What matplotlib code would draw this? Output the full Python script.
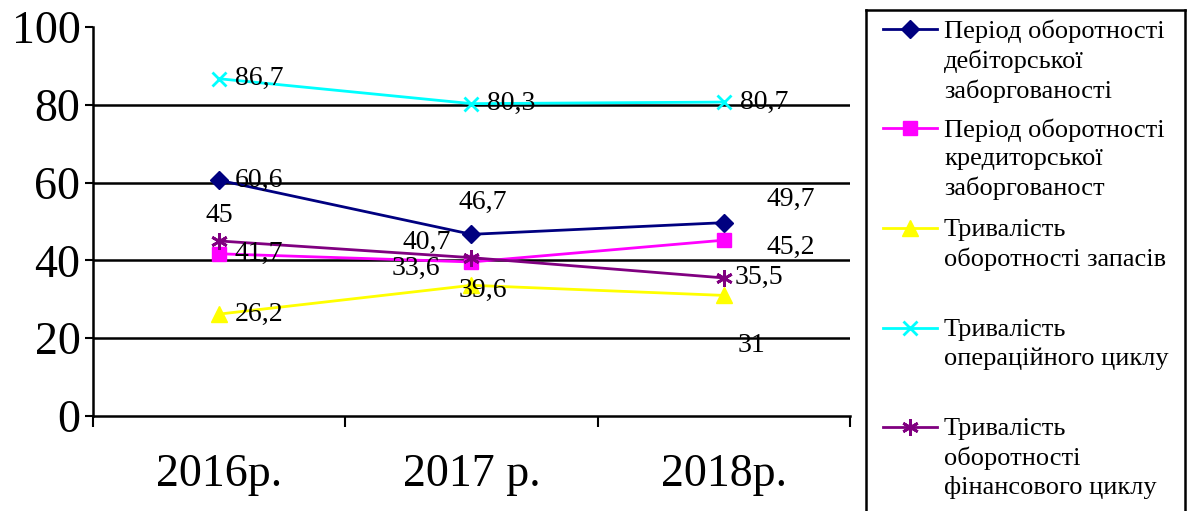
import matplotlib
matplotlib.use('Agg')
import matplotlib.pyplot as plt
from matplotlib.lines import Line2D

plt.rcParams['font.family'] = ['Liberation Serif', 'DejaVu Serif']

# Data
years = ['2016р.', '2017 р.', '2018р.']
receivables = [60.6, 46.7, 49.7]
payables = [41.7, 39.6, 45.2]
inventory = [26.2, 33.6, 31]
operating_cycle = [86.7, 80.3, 80.7]
financial_cycle = [45, 40.7, 35.5]

series_names = [
    'Період оборотності\nдебіторської\nзаборгованості',
    'Період оборотності\nкредиторської\nзаборгованост',
    'Тривалість\nоборотності запасів',
    'Тривалість\nопераційного циклу',
    'Тривалість\nоборотності\nфінансового циклу',
]
series_values = [receivables, payables, inventory, operating_cycle, financial_cycle]

# Styles: colour, marker, marker size
styles = [
    ('#000080', 'D', 9),
    ('#FF00FF', 's', 10),
    ('#FFFF00', '^', 11),
    ('#00FFFF', 'x', 10),
    ('#800080', (6, 2, 0), 12),
]

# Label offsets in pixels (dx, dy) for each point
label_offsets = [
    [(40, 0), (11, 32), (67, 23)],
    [(40, 0), (11, -28), (67, -7)],
    [(40, 0), (-56, 17), (28, -50)],
    [(40, 0), (40, 0), (40, 0)],
    [(0, 25), (-45, 15), (35, 0)],
]

W, H = 1190, 511
fig = plt.figure(figsize=(W / 100, H / 100), dpi=100)
ax = fig.add_axes([93 / W, (H - 416) / H, (850 - 93) / W, (416 - 27) / H])

x = list(range(len(years)))
for vals, (color, marker, ms), offs in zip(series_values, styles, label_offsets):
    ax.plot(x, vals, color=color, lw=2, marker=marker, markersize=ms,
            markeredgewidth=2 if marker in ('x', (6, 2, 0)) else 1,
            markeredgecolor=color, zorder=3, clip_on=False)
    for xi, v, (dx, dy) in zip(x, vals, offs):
        ax.annotate(f'{v:g}'.replace('.', ','), (xi, v), xytext=(dx, dy),
                    textcoords='offset pixels', ha='center', va='center',
                    fontsize=20, color='black', zorder=4)

ax.set_xlim(-0.5, len(years) - 0.5)
ax.set_ylim(0, 100)
ax.set_yticks([0, 20, 40, 60, 80, 100])
ax.tick_params(axis='y', labelsize=33, length=6, width=1.5, direction='out', pad=3)
for yv in [20, 40, 60, 80]:
    ax.axhline(yv, color='black', lw=1.8, zorder=1)

ax.set_xticks([-0.5, 0.5, 1.5, 2.5])
ax.set_xticklabels([])
ax.set_xticks(x, minor=True)
ax.set_xticklabels(years, minor=True)
ax.tick_params(axis='x', which='major', length=8, width=1.5, direction='out')
ax.tick_params(axis='x', which='minor', length=0, labelsize=33, pad=27)

for side in ['top', 'right']:
    ax.spines[side].set_visible(False)
for side in ['left', 'bottom']:
    ax.spines[side].set_linewidth(1.8)
    ax.spines[side].set_color('black')

# Legend box drawn in pixel coordinates
lax = fig.add_axes([866 / W, -0.1, (1185 - 866) / W, (H - 10) / H + 0.1])
lax.set_xlim(866, 1185)
lax.set_ylim(H + 0.1 * H, 10)
lax.set_xticks([])
lax.set_yticks([])
for sp in lax.spines.values():
    sp.set_linewidth(1.8)
    sp.set_color('black')

handle_y = [29, 128, 228, 328, 427]
for yy, name, (color, marker, ms) in zip(handle_y, series_names, styles):
    lax.add_line(Line2D([883, 937], [yy, yy], color=color, lw=2))
    lax.add_line(Line2D([910], [yy], color=color, marker=marker, markersize=ms,
                        markeredgewidth=2 if marker in ('x', (6, 2, 0)) else 1,
                        markeredgecolor=color))
    lax.text(944, yy - 9, name, ha='left', va='top', fontsize=19,
             linespacing=1.35, color='black')

fig.savefig('out.png', dpi=100, facecolor='white')
